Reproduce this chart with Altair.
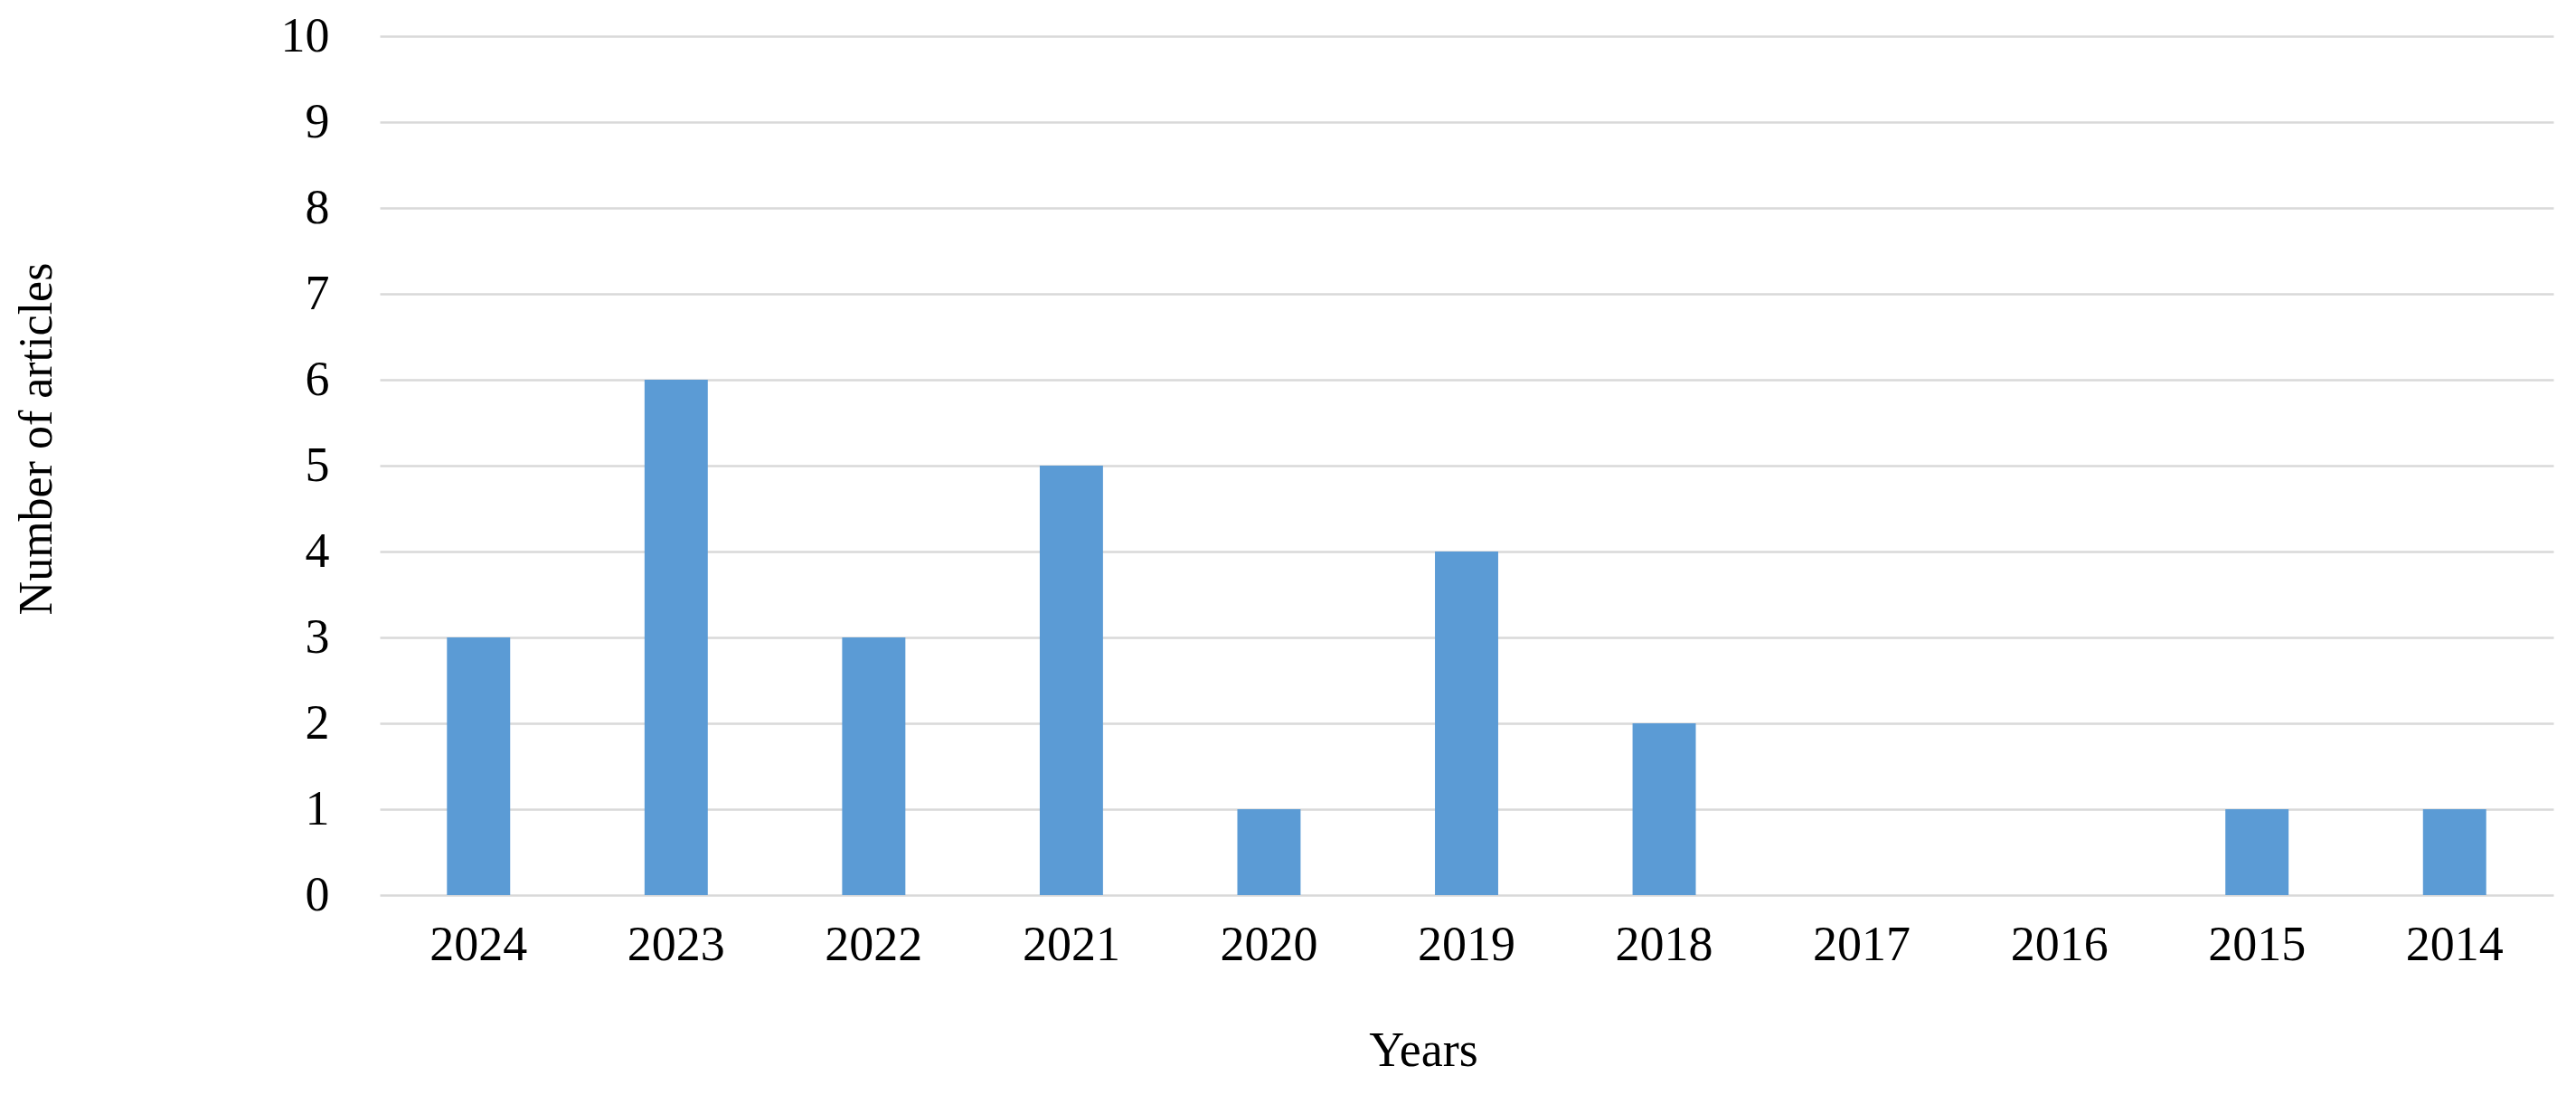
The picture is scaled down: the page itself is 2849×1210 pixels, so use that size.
import pandas as pd
import altair as alt

years  = ["2024", "2023", "2022", "2021", "2020", "2019", "2018", "2017", "2016", "2015", "2014"]
counts = [3, 6, 3, 5, 1, 4, 2, 0, 0, 1, 1]
y_ticks = list(range(0, 11))

df = pd.DataFrame({"year": years, "articles": counts})

FONT = "Liberation Serif"

chart = (
    alt.Chart(df)
    .mark_bar(color="#5B9BD5")
    .encode(
        x=alt.X("year:N", sort=years,
                scale=alt.Scale(paddingInner=0.68, paddingOuter=0.34),
                axis=alt.Axis(title="Years", labelAngle=0, ticks=False, domain=False,
                              labelFont=FONT, labelFontSize=54, labelColor="#000000",
                              labelPadding=28,
                              titleFont=FONT, titleFontSize=54, titleFontWeight="normal",
                              titleColor="#000000", titleX=1154, titleY=172,
                              titleBaseline="middle", titleAlign="center")),
        y=alt.Y("articles:Q",
                scale=alt.Scale(domain=[0, 10], nice=False),
                axis=alt.Axis(title="Number of articles", values=y_ticks, ticks=False,
                              domain=False, grid=True, gridColor="#D9D9D9", gridWidth=2.5,
                              labelFont=FONT, labelFontSize=54, labelColor="#000000",
                              labelPadding=56,
                              titleFont=FONT, titleFontSize=52, titleFontWeight="normal",
                              titleColor="#000000", titleAngle=270, titleX=-380, titleY=445,
                              titleBaseline="middle", titleAlign="center")),
    )
    .properties(
        width=2404, height=950,
        autosize=alt.AutoSizeParams(type="none"),
        padding={"left": 412, "top": 32, "right": 10, "bottom": 200},
    )
    .configure_view(stroke=None)
)

chart.save("out.html", embed_options={"renderer": "svg", "actions": False})
